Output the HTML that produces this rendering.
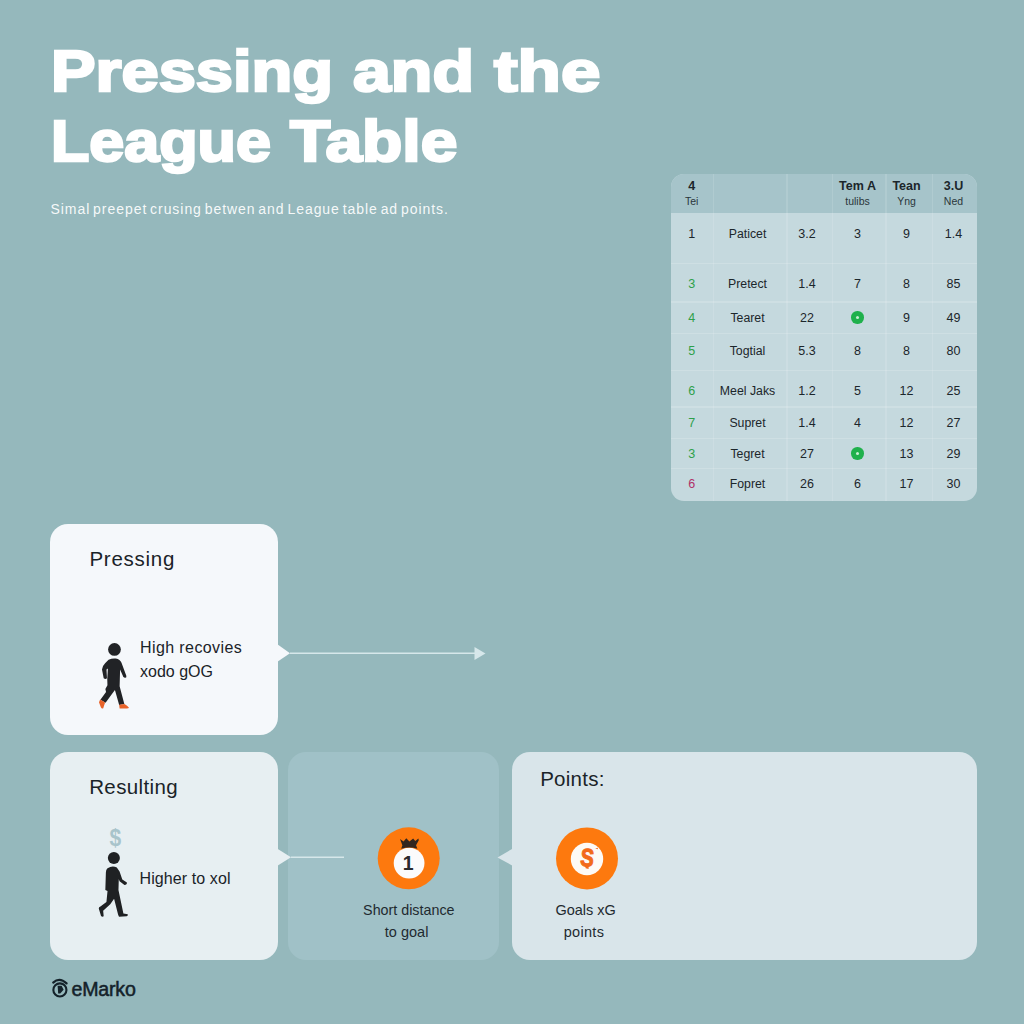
<!DOCTYPE html>
<html lang="en">
<head>
<meta charset="utf-8">
<title>Pressing and the League Table</title>
<style>
*{box-sizing:border-box;margin:0;padding:0}
html,body{width:1024px;height:1024px;overflow:hidden}
body{background:#95b8bc;font-family:"Liberation Sans",sans-serif;position:relative;color:#1a2328}
.abs{position:absolute;white-space:nowrap}
h1{position:absolute;left:0;top:0;font-size:58px;line-height:70px;font-weight:700;color:#fff;white-space:nowrap;-webkit-text-stroke:2.5px #fff}
h1 span{position:absolute;display:block;transform-origin:0 50%}
.sub{left:50.5px;top:200px;font-size:14px;line-height:18px;color:rgba(255,255,255,.93);transform-origin:0 50%;letter-spacing:.95px;word-spacing:-2px}
.card{position:absolute;border-radius:18px}
.c1{left:50px;top:524px;width:228px;height:211px;background:#f5f8fb}
.c2{left:50px;top:752px;width:228px;height:208px;background:#e7eff2}
.c3{left:288px;top:752px;width:211px;height:208px;background:#a0c1c7}
.c4{left:512px;top:752px;width:465px;height:208px;background:#d9e5ea}
.ttl{font-size:20.5px;line-height:24px;color:#1a2328;transform-origin:0 50%}
.lbl{font-size:16px;line-height:20px;color:#1a2328;transform-origin:0 50%}
.sm{font-size:14.5px;line-height:22px;color:#1f2a30;text-align:center}
svg{position:absolute;left:0;top:0;overflow:visible}
/* table */
.tbl{position:absolute;left:671px;top:174px;width:306px;height:327px;border-radius:13px;background:#c5d9de;overflow:hidden}
.tbl .hd{position:absolute;left:0;top:0;width:306px;height:39px;background:#a6c4ca}
.vl{position:absolute;top:0;width:1.5px;height:327px;background:rgba(255,255,255,.12)}
.hl{position:absolute;left:0;width:306px;height:1.5px;background:rgba(255,255,255,.16)}
.t{position:absolute;white-space:nowrap;font-size:12.5px;line-height:14px;color:#1c262b;transform:translateX(-50%)}
.t.b{font-weight:700;font-size:12.5px}
.t.s{font-size:10.5px;color:#2a363b}
.t.n{font-size:12.3px}
.dot{position:absolute;width:12.5px;height:12.5px;border-radius:50%;background:#1fb14c}
.dot i{position:absolute;left:4.5px;top:4.5px;width:3.5px;height:3.5px;border-radius:50%;background:#c9eed3}
.g{color:#2ea04a}
.m{color:#b03068}
</style>
</head>
<body>
<h1><span style="left:51.1px;top:35.5px;transform:scaleX(1.151)">Pressing</span> <span style="left:352.5px;top:35.5px;transform:scaleX(1.173)">and</span> <span style="left:494.2px;top:35.5px;transform:scaleX(1.223)">the</span> <span style="left:51.2px;top:106px;transform:scaleX(1.083)">League</span> <span style="left:289.9px;top:106px;transform:scaleX(1.137)">Table</span></h1>
<div class="abs sub">Simal preepet crusing betwen and League table ad points.</div>

<div class="card c1"></div>
<div class="card c2"></div>
<div class="card c3"></div>
<div class="card c4"></div>

<svg width="1024" height="1024" viewBox="0 0 1024 1024">
  <!-- pointers & lines -->
  <path d="M277 644 L290 653.2 L277 662 Z" fill="#f5f8fb"/>
  <path d="M290 653.2 H476" stroke="#d6e7ea" stroke-width="1.6" fill="none"/>
  <path d="M474.5 647 L485.5 653.4 L474.5 660 Z" fill="#d6e7ea"/>
  <path d="M277 848.5 L291 857.3 L277 866 Z" fill="#e7eff2"/>
  <path d="M291 857.3 H344" stroke="#d6e7ea" stroke-width="1.6" fill="none"/>
  <path d="M513 848.5 L497.5 857.4 L513 866 Z" fill="#d9e5ea"/>

  <!-- person 1 -->
  <g transform="translate(84,630) scale(0.09375)">
    <circle cx="325" cy="207" r="68" fill="#212326"/>
    <path d="M262 318 Q300 300 340 305 Q385 315 400 350 L452 490 Q455 512 435 510 L420 500 L385 420 L380 600 L430 790 L375 800 L330 640 L300 680 L230 775 L175 745 L235 660 L228 630 L250 590 L248 520 L255 410 L240 420 L245 515 Q230 530 210 515 L192 420 Q195 385 225 355 Z" fill="#212326"/>
    <path d="M172 742 L225 772 L205 835 Q190 845 180 825 L160 770 Z" fill="#e8632a"/>
    <path d="M375 798 L432 790 Q470 815 480 828 Q470 840 380 838 Z" fill="#e8632a"/>
  </g>
  <!-- person 2 -->
  <g transform="translate(84,820) scale(0.10940)">
    <circle cx="273" cy="348" r="55" fill="#1f2123"/>
    <path d="M215 440 Q260 415 300 435 L325 470 L350 545 L392 572 Q395 592 370 595 L325 560 L318 540 L315 640 L360 855 L400 862 Q405 878 390 880 L320 884 L312 865 L275 720 L240 770 L175 830 L180 880 Q165 890 155 875 L135 810 Q135 795 150 790 L205 750 L215 650 L195 640 L200 480 Q200 450 215 440 Z" fill="#1f2123"/>
  </g>
  <text x="0" y="0" font-size="24" font-weight="700" fill="#a9c4cb" text-anchor="middle" font-family="Liberation Sans, sans-serif" transform="translate(115.3 846) scale(.875 1)">$</text>
  <!-- badge 1 -->
  <circle cx="408.7" cy="858.3" r="31" fill="#fd790e"/>
  <circle cx="409.1" cy="863.1" r="15.4" fill="#fbfbfc"/>
  <g transform="translate(368,818) scale(0.078125)">
    <path d="M410 268 L455 300 L490 260 L530 300 L578 262 L605 295 L645 262 L650 285 L615 350 L632 392 Q528 362 425 392 L440 350 Z" fill="#33261f"/>
  </g>
  <text x="408.3" y="870" font-size="19.5" font-weight="700" fill="#2a2a2e" text-anchor="middle" font-family="Liberation Sans, sans-serif">1</text>
  <!-- badge 2 -->
  <circle cx="587" cy="858.4" r="31" fill="#fd790e"/>
  <circle cx="587" cy="859" r="16.2" fill="#fdfaf6"/>
  <text x="0" y="0" font-size="25" font-weight="700" fill="#f26a1b" stroke="#f26a1b" stroke-width="1.1" text-anchor="middle" font-family="Liberation Sans, sans-serif" transform="translate(587.2 866.3) rotate(6 0 -9) scale(.8 1)">S</text>
  <path d="M585.2 865.5 H588.6 V868.9 L585.6 868.3 Z M595.2 848.6 L597.8 847.8 L597.9 849.2 Z" fill="#f26a1b"/>
  <!-- logo mark -->
  <circle cx="59.9" cy="989.9" r="6.55" fill="none" stroke="#14222a" stroke-width="2.1"/>
  <path d="M53.2 982.6 Q59.5 976.6 66.6 983.4" fill="none" stroke="#14222a" stroke-width="2.2" stroke-linecap="round"/>
  <path d="M57.6 985.8 H61.6 L63.6 989.8 L60.2 993.4 H58.2 Z" fill="#14222a"/>
</svg>

<div class="abs ttl" style="left:89.4px;top:546.7px;letter-spacing:.75px">Pressing</div>
<div class="abs lbl" style="left:140px;top:638px;letter-spacing:.4px">High recovies</div>
<div class="abs lbl" style="left:140px;top:662px">xodo gOG</div>

<div class="abs ttl" style="left:89.2px;top:775.4px;letter-spacing:.37px">Resulting</div>
<div class="abs lbl" style="left:139.5px;top:868.6px;letter-spacing:.1px">Higher to xol</div>

<div class="abs sm" style="left:338.8px;top:899px;width:140px;font-size:14.3px">Short distance</div>
<div class="abs sm" style="left:336.6px;top:921px;width:140px">to goal</div>

<div class="abs ttl" style="left:540.2px;top:767.2px;letter-spacing:.25px">Points:</div>
<div class="abs sm" style="left:515.6px;top:899px;width:140px">Goals xG</div>
<div class="abs sm" style="left:514px;top:921px;width:140px;letter-spacing:.3px">points</div>

<div class="abs" style="left:71.5px;top:976.6px;font-size:19.6px;line-height:24px;color:#14222a;-webkit-text-stroke:0.5px #14222a;letter-spacing:-0.2px">eMarko</div>

<div class="tbl">
  <div class="hd"></div>
  <div class="vl" style="left:41.5px"></div>
  <div class="vl" style="left:115px"></div>
  <div class="vl" style="left:160.5px"></div>
  <div class="vl" style="left:214px"></div>
  <div class="vl" style="left:260.75px"></div>
  <div class="hl" style="top:88.5px"></div>
  <div class="hl" style="top:127px"></div>
  <div class="hl" style="top:158.5px"></div>
  <div class="hl" style="top:195.5px"></div>
  <div class="hl" style="top:232.25px"></div>
  <div class="hl" style="top:263.5px"></div>
  <div class="hl" style="top:293.5px"></div>
  <div class="t b" style="left:20.75px;top:5.20px">4</div>
  <div class="t s" style="left:20.75px;top:20.36px">Tei</div>
  <div class="t b" style="left:186.5px;top:5.20px">Tem A</div>
  <div class="t s" style="left:186.5px;top:20.36px">tulibs</div>
  <div class="t b" style="left:235.5px;top:5.20px">Tean</div>
  <div class="t s" style="left:235.5px;top:20.36px">Yng</div>
  <div class="t b" style="left:282.5px;top:5.20px">3.U</div>
  <div class="t s" style="left:282.5px;top:20.36px">Ned</div>
  <div class="t" style="left:20.75px;top:52.70px">1</div>
  <div class="t n" style="left:76.5px;top:52.70px">Paticet</div>
  <div class="t" style="left:136px;top:52.70px">3.2</div>
  <div class="t" style="left:186.5px;top:52.70px">3</div>
  <div class="t" style="left:235.5px;top:52.70px">9</div>
  <div class="t" style="left:282.5px;top:52.70px">1.4</div>
  <div class="t g" style="left:20.75px;top:103.45px">3</div>
  <div class="t n" style="left:76.5px;top:103.45px">Pretect</div>
  <div class="t" style="left:136px;top:103.45px">1.4</div>
  <div class="t" style="left:186.5px;top:103.45px">7</div>
  <div class="t" style="left:235.5px;top:103.45px">8</div>
  <div class="t" style="left:282.5px;top:103.45px">85</div>
  <div class="t g" style="left:20.75px;top:136.70px">4</div>
  <div class="t n" style="left:76.5px;top:136.70px">Tearet</div>
  <div class="t" style="left:136px;top:136.70px">22</div>
  <div class="dot" style="left:180.25px;top:137.35px"><i></i></div>
  <div class="t" style="left:235.5px;top:136.70px">9</div>
  <div class="t" style="left:282.5px;top:136.70px">49</div>
  <div class="t g" style="left:20.75px;top:169.70px">5</div>
  <div class="t n" style="left:76.5px;top:169.70px">Togtial</div>
  <div class="t" style="left:136px;top:169.70px">5.3</div>
  <div class="t" style="left:186.5px;top:169.70px">8</div>
  <div class="t" style="left:235.5px;top:169.70px">8</div>
  <div class="t" style="left:282.5px;top:169.70px">80</div>
  <div class="t g" style="left:20.75px;top:209.95px">6</div>
  <div class="t n" style="left:76.5px;top:209.95px">Meel Jaks</div>
  <div class="t" style="left:136px;top:209.95px">1.2</div>
  <div class="t" style="left:186.5px;top:209.95px">5</div>
  <div class="t" style="left:235.5px;top:209.95px">12</div>
  <div class="t" style="left:282.5px;top:209.95px">25</div>
  <div class="t g" style="left:20.75px;top:241.70px">7</div>
  <div class="t n" style="left:76.5px;top:241.70px">Supret</div>
  <div class="t" style="left:136px;top:241.70px">1.4</div>
  <div class="t" style="left:186.5px;top:241.70px">4</div>
  <div class="t" style="left:235.5px;top:241.70px">12</div>
  <div class="t" style="left:282.5px;top:241.70px">27</div>
  <div class="t g" style="left:20.75px;top:272.70px">3</div>
  <div class="t n" style="left:76.5px;top:272.70px">Tegret</div>
  <div class="t" style="left:136px;top:272.70px">27</div>
  <div class="dot" style="left:180.25px;top:273.35px"><i></i></div>
  <div class="t" style="left:235.5px;top:272.70px">13</div>
  <div class="t" style="left:282.5px;top:272.70px">29</div>
  <div class="t m" style="left:20.75px;top:303.45px">6</div>
  <div class="t n" style="left:76.5px;top:303.45px">Fopret</div>
  <div class="t" style="left:136px;top:303.45px">26</div>
  <div class="t" style="left:186.5px;top:303.45px">6</div>
  <div class="t" style="left:235.5px;top:303.45px">17</div>
  <div class="t" style="left:282.5px;top:303.45px">30</div>
</div>
</body>
</html>
